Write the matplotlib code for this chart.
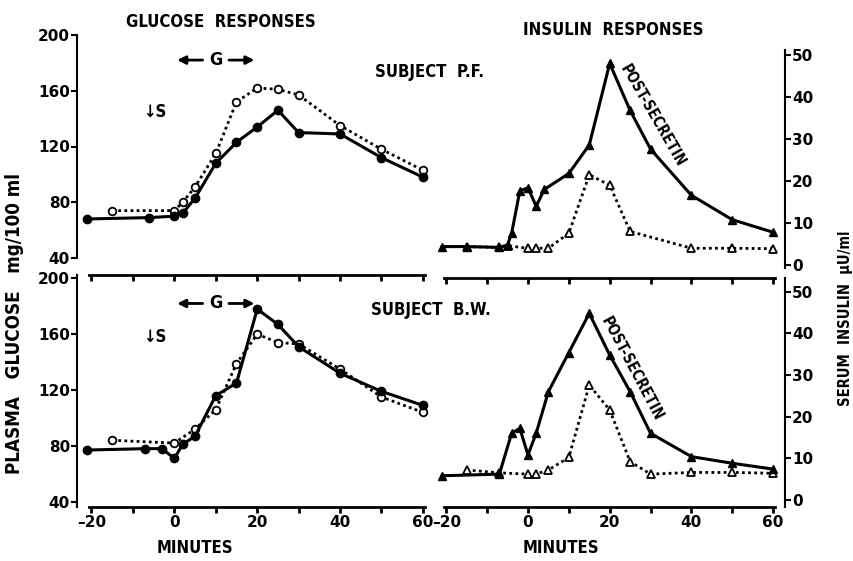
import numpy as np
import matplotlib
matplotlib.use('Agg')
import matplotlib.pyplot as plt

plt.rcParams['font.family'] = ['DejaVu Sans']
plt.rcParams['font.weight'] = 'bold'

# Subject P.F. glucose (mg/100 ml)
pf_glu_t = [-21, -6, 0, 2, 5, 10, 15, 20, 25, 30, 40, 50, 60]
pf_glu_post = [68, 69, 70, 72, 83, 108, 123, 134, 146, 130, 129, 112, 98]
pf_glu_ctl_t = [-15, 0, 2, 5, 10, 15, 20, 25, 30, 40, 50, 60]
pf_glu_ctl = [74, 74, 80, 91, 115, 152, 162, 161, 157, 135, 118, 103]

# Subject B.W. glucose
bw_glu_t = [-21, -7, -3, 0, 2, 5, 10, 15, 20, 25, 30, 40, 50, 60]
bw_glu_post = [77, 78, 78, 71, 81, 87, 116, 125, 178, 167, 151, 132, 119, 109]
bw_glu_ctl_t = [-15, 0, 5, 10, 15, 20, 25, 30, 40, 50, 60]
bw_glu_ctl = [84, 82, 92, 106, 139, 160, 154, 153, 135, 115, 104]

# Subject P.F. insulin (uU/ml)
pf_ins_t = [-21, -15, -7, -5, -4, -2, 0, 2, 4, 10, 15, 20, 25, 30, 40, 50, 60]
pf_ins_post = [4.4, 4.4, 4.2, 4.8, 7.6, 17.6, 18.4, 14, 18, 21.8, 28.6, 48, 36.8, 27.6, 16.6, 10.8, 7.8]
pf_ins_ctl_t = [-15, -7, -5, 0, 2, 5, 10, 15, 20, 25, 40, 50, 60]
pf_ins_ctl = [4.4, 4.2, 4.6, 4.0, 4.0, 4.0, 7.6, 21.5, 19, 8, 4.0, 4.0, 3.9]

# Subject B.W. insulin
bw_ins_t = [-21, -7, -4, -2, 0, 2, 5, 10, 15, 20, 25, 30, 40, 50, 60]
bw_ins_post = [5.8, 6.2, 16, 17.2, 10.8, 16, 26, 35.4, 44.8, 34.8, 26, 16, 10.4, 8.8, 7.4]
bw_ins_ctl_t = [-15, -7, 0, 2, 5, 10, 15, 20, 25, 30, 40, 50, 60]
bw_ins_ctl = [7.2, 6.5, 6.2, 6.2, 7.2, 10.2, 27.6, 21.6, 9.2, 6.2, 6.6, 6.6, 6.4]

W, H = 854, 561
fig = plt.figure(figsize=(W / 100, H / 100), dpi=100)


def rect(x0, y0, x1, y1):
    return [x0 / W, 1 - y1 / H, (x1 - x0) / W, (y1 - y0) / H]


def fxy(x, y):
    return x / W, 1 - y / H


ax_tl = fig.add_axes(rect(77, 35, 425, 258))
ax_bl = fig.add_axes(rect(77, 275, 425, 507))
ax_tr = fig.add_axes(rect(434, 50, 785, 268))
ax_br = fig.add_axes(rect(434, 278, 785, 507))

tick_font = dict(fontsize=11, fontweight='bold')
cond = dict(fontweight='bold', fontstretch='condensed')


def line_pair(ax, t1, y1, t2, y2, marker):
    ax.plot(t2, y2, ls=(0, (1, 1.2)), lw=2, color='black', marker=marker,
            mfc='white', mec='black', ms=5.5, mew=1.3, clip_on=False)
    ax.plot(t1, y1, ls='-', lw=2.2, color='black', marker=marker,
            mfc='black', mec='black', ms=6, clip_on=False)


line_pair(ax_tl, pf_glu_t, pf_glu_post, pf_glu_ctl_t, pf_glu_ctl, 'o')
line_pair(ax_bl, bw_glu_t, bw_glu_post, bw_glu_ctl_t, bw_glu_ctl, 'o')
line_pair(ax_tr, pf_ins_t, pf_ins_post, pf_ins_ctl_t, pf_ins_ctl, '^')
line_pair(ax_br, bw_ins_t, bw_ins_post, bw_ins_ctl_t, bw_ins_ctl, '^')

for ax in (ax_tl, ax_bl):
    ax.set_xlim(-23.5, 60.5)
    ax.spines['right'].set_visible(False)
    ax.spines['left'].set_linewidth(1.5)
    ax.set_yticks([40, 80, 120, 160, 200])
    ax.set_yticklabels(['40', '80', '120', '160', '200'], **tick_font)
    ax.tick_params(axis='y', direction='out', length=4, width=1.5, pad=1)
ax_tl.set_ylim(40, 200)
ax_bl.set_ylim(36.2, 202.4)

for ax in (ax_tr, ax_br):
    ax.set_xlim(-23, 62.9)
    ax.spines['left'].set_visible(False)
    ax.spines['right'].set_linewidth(1.5)
    ax.yaxis.tick_right()
    ax.set_yticks([0, 10, 20, 30, 40, 50])
    ax.set_yticklabels(['0', '10', '20', '30', '40', '50'], **tick_font)
    ax.tick_params(axis='y', direction='out', length=4, width=1.5, pad=1)
ax_tr.set_ylim(-0.7, 51.2)
ax_br.set_ylim(-1.7, 53.3)

for ax in (ax_tl, ax_tr):
    ax.spines['top'].set_visible(False)
    ax.spines['bottom'].set_visible(False)
    ax.set_xticks([])

for ax in (ax_bl, ax_br):
    ax.spines['bottom'].set_linewidth(2)
    ax.spines['top'].set_linewidth(2)
    ax.spines['bottom'].set_bounds(-20.5, 60.5)
    ax.spines['top'].set_bounds(-20.5, 60.5)
    ax.set_xticks(np.arange(-20, 61, 10))
    ax.set_xticklabels(['\u201320', '', '0', '', '20', '', '40', '', '60'], **tick_font)
    ax.tick_params(axis='x', direction='out', length=4, width=2, pad=2,
                   top=True, labeltop=False)
    for tk in ax.xaxis.get_major_ticks():
        tk.tick2line.set_marker(3)
ax_bl.spines['left'].set_bounds(36.2, 202.4)

# "G" infusion arrows and secretin marks
for ax, sy in ((ax_tl, 145), (ax_bl, 158)):
    ax.annotate('', xy=(0, 182), xytext=(7.5, 182),
                arrowprops=dict(arrowstyle='-|>', lw=2, color='black', mutation_scale=12))
    ax.annotate('', xy=(20, 182), xytext=(12.5, 182),
                arrowprops=dict(arrowstyle='-|>', lw=2, color='black', mutation_scale=12))
    ax.text(10, 182, 'G', ha='center', va='center', fontsize=13, **cond)
    ax.text(-7.5, sy, '\u2193S', ha='left', va='center', fontsize=12, **cond)

fig.text(*fxy(430, 72), 'SUBJECT  P.F.', ha='center', va='center', fontsize=12, **cond)
fig.text(*fxy(431, 310), 'SUBJECT  B.W.', ha='center', va='center', fontsize=12, **cond)

fig.text(*fxy(221, 22), 'GLUCOSE  RESPONSES', ha='center', va='center', fontsize=12, **cond)
fig.text(*fxy(613, 30), 'INSULIN  RESPONSES', ha='center', va='center', fontsize=12, **cond)
fig.text(*fxy(15, 324), 'PLASMA   GLUCOSE   mg/100 ml', ha='center', va='center',
         rotation=90, fontsize=13.5, **cond)
fig.text(*fxy(846, 318), 'SERUM  INSULIN  \u00b5U/ml', ha='center', va='center',
         rotation=90, fontsize=10.5, **cond)
fig.text(*fxy(195, 548), 'MINUTES', ha='center', va='center', fontsize=12, **cond)
fig.text(*fxy(561, 548), 'MINUTES', ha='center', va='center', fontsize=12, **cond)

ax_tr.text(30.5, 35.5, 'POST-SECRETIN', rotation=-60, ha='center', va='center',
           fontsize=10.5, rotation_mode='anchor', **cond)
ax_br.text(25.5, 31.5, 'POST-SECRETIN', rotation=-62, ha='center', va='center',
           fontsize=10.5, rotation_mode='anchor', **cond)

fig.savefig('out.png', dpi=100)
